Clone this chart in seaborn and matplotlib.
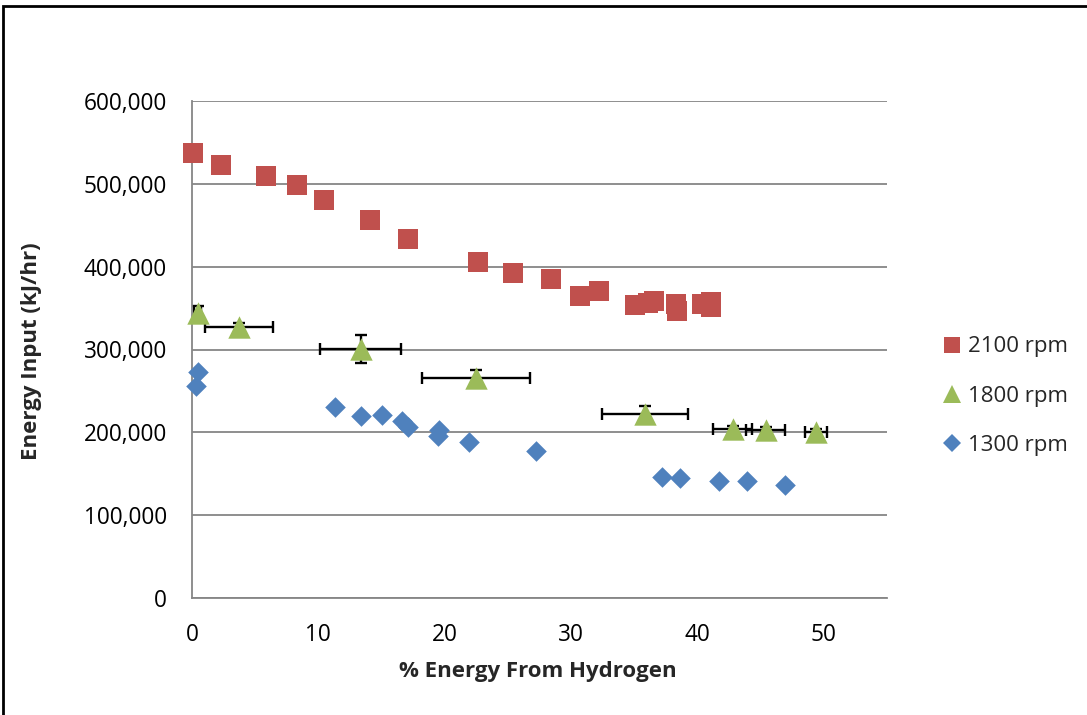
import matplotlib
matplotlib.use("Agg")
import matplotlib.pyplot as plt
from matplotlib.patches import Rectangle
from matplotlib.lines import Line2D
from matplotlib.ticker import FuncFormatter
import seaborn as sns
import pandas as pd

# ---- data ----
x_2100 = [0.08, 2.3, 5.86, 8.31, 10.45, 14.09, 17.1, 22.67, 25.39, 28.4, 30.74, 32.25,
          35.08, 36.08, 36.56, 38.32, 38.38, 40.36, 41.09, 41.09]
y_2100 = [537000, 523000, 509000, 499000, 481000, 456000, 434000, 406000, 392000, 385000,
          365000, 371000, 354000, 356000, 358000, 355000, 346000, 355000, 357000, 351000]

x_1800 = [0.45, 3.75, 13.36, 22.49, 35.89, 42.81, 45.45, 49.41]
y_1800 = [344000, 327000, 300500, 266000, 222600, 203700, 203000, 200000]
xerr_1800 = [0.3, 2.7, 3.2, 4.27, 3.4, 1.55, 1.55, 0.85]
yerr_1800 = [9000, 4500, 16500, 9000, 9500, 4000, 3000, 4000]

x_1300 = [0.45, 0.29, 11.32, 13.36, 15.02, 16.65, 17.13, 19.53, 19.48, 21.93, 27.24,
          37.21, 38.64, 41.75, 43.94, 46.98]
y_1300 = [273000, 256000, 231000, 220000, 221000, 214000, 207000, 203000, 195000, 188000,
          178000, 146000, 145000, 141000, 141000, 136000]

series_names = ["2100 rpm", "1800 rpm", "1300 rpm"]
x_ticks = [0, 10, 20, 30, 40, 50]
y_ticks = [0, 100000, 200000, 300000, 400000, 500000, 600000]

# ---- style ----
sns.set_theme(style="white")
plt.rcParams["font.family"] = ["Open Sans", "DejaVu Sans"]

colors = {"2100 rpm": "#C0504D", "1800 rpm": "#9BBB59", "1300 rpm": "#4F81BD"}
grid_c = "#868686"

df = pd.concat([
    pd.DataFrame({"x": x_2100, "y": y_2100, "series": series_names[0]}),
    pd.DataFrame({"x": x_1800, "y": y_1800, "series": series_names[1]}),
    pd.DataFrame({"x": x_1300, "y": y_1300, "series": series_names[2]}),
], ignore_index=True)

W, H = 1087, 715
fig = plt.figure(figsize=(W / 100, H / 100), dpi=100)
ax = fig.add_axes([192 / W, 1 - 598 / H, (886.5 - 192) / W, (598 - 101) / H])

# error bars (behind markers)
eb = ax.errorbar(x_1800, y_1800, xerr=xerr_1800, yerr=yerr_1800, fmt="none",
                 ecolor="black", elinewidth=1.7, capsize=4, capthick=1.7, zorder=2)

sizes = {"2100 rpm": 205, "1800 rpm": 260, "1300 rpm": 110}
markers = {"2100 rpm": "s", "1800 rpm": "^", "1300 rpm": "D"}
for name in series_names:
    sub = df[df["series"] == name]
    sns.scatterplot(data=sub, x="x", y="y", ax=ax, marker=markers[name],
                    color=colors[name], s=sizes[name], linewidth=0, zorder=3,
                    legend=False)
for coll in ax.collections:
    coll.set_clip_on(False)
for line in eb.lines[1]:
    line.set_clip_on(False)

ax.set_xlim(0, 55)
ax.set_ylim(0, 600000)
ax.set_xticks(x_ticks)
ax.set_yticks(y_ticks)
ax.yaxis.set_major_formatter(FuncFormatter(lambda v, p: f"{int(v):,}"))
ax.tick_params(axis="both", length=0, labelsize=16.3, pad=18, colors="black")
ax.yaxis.grid(True, color=grid_c, linewidth=1.3)
ax.xaxis.grid(False)
ax.set_axisbelow(True)
for side in ["top", "right"]:
    ax.spines[side].set_visible(False)
for side in ["left", "bottom"]:
    ax.spines[side].set_color(grid_c)
    ax.spines[side].set_linewidth(1.3)

ax.set_xlabel("")
ax.set_ylabel("")
fig.text(538 / W, 1 - 672 / H, "% Energy From Hydrogen", ha="center", va="center",
         fontsize=16, fontweight="bold")
fig.text(32 / W, 1 - 351 / H, "Energy Input (kJ/hr)", ha="center", va="center",
         rotation=90, fontsize=16, fontweight="bold")

# legend
handles = [
    Line2D([], [], linestyle="none", marker="s", markersize=12, color=colors["2100 rpm"], markeredgewidth=0),
    Line2D([], [], linestyle="none", marker="^", markersize=12.5, color=colors["1800 rpm"], markeredgewidth=0),
    Line2D([], [], linestyle="none", marker="D", markersize=9, color=colors["1300 rpm"], markeredgewidth=0),
]
fig.legend(handles, series_names, loc="center left", bbox_to_anchor=(930 / W, 1 - 396 / H),
           frameon=False, fontsize=16, handlelength=1.0, handletextpad=0.2,
           labelspacing=1.27, borderpad=0)

# figure border
fig.patches.append(Rectangle((3 / W, -0.02), 1.05, 1 - 6 / H + 0.02, transform=fig.transFigure,
                             fill=False, edgecolor="black", linewidth=2, zorder=10))

fig.savefig("out.png", dpi=100)
